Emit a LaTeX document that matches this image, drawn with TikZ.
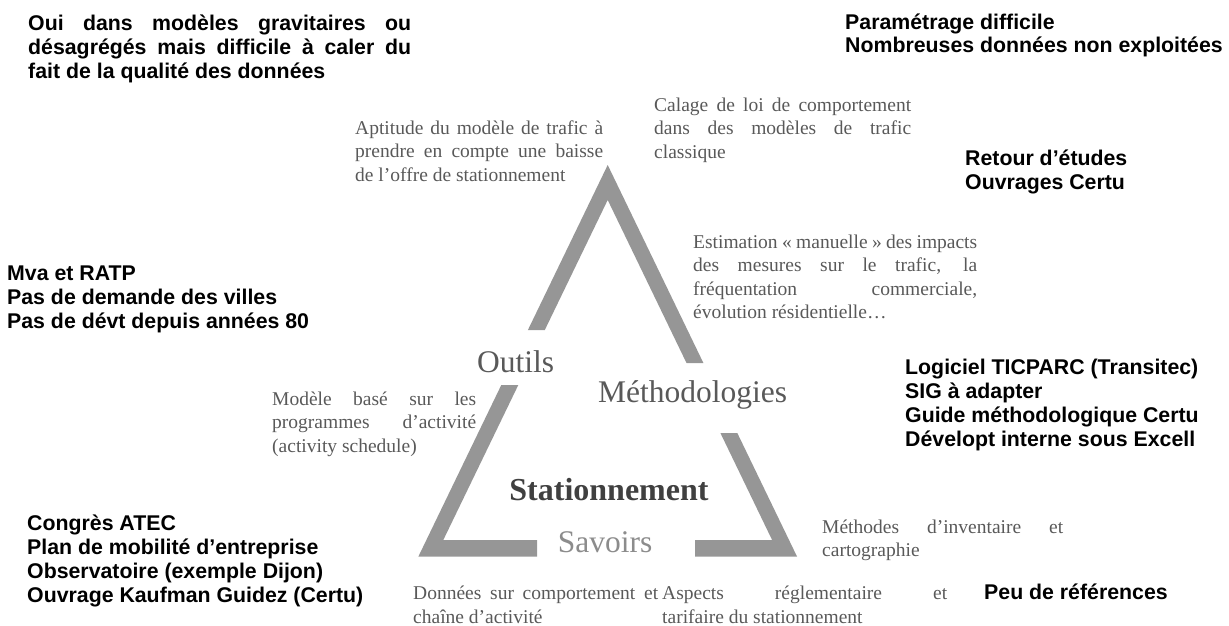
\documentclass[tikz,border=0pt]{standalone}
\usepackage{fontspec}
\setmainfont{Liberation Serif}
\setsansfont{Liberation Sans}
\usetikzlibrary{positioning}
\definecolor{grisTri}{RGB}{150,150,150}
\definecolor{grisTexte}{RGB}{89,89,89}
\definecolor{grisClair}{RGB}{140,140,140}
\definecolor{grisFonce}{RGB}{64,64,64}
\newcommand{\jl}[2]{\makebox[#1][s]{#2}}

\begin{document}
\begin{tikzpicture}[x=1pt,y=-1pt,
    avis/.style={anchor=base west,inner sep=0pt,align=left,font=\sffamily\bfseries\fontsize{21.3}{24}\selectfont},
    note/.style={anchor=base west,inner sep=0pt,align=left,text=grisTexte,font=\fontsize{19.5}{23.5}\selectfont},
    pole/.style={inner sep=0pt,text=grisTexte,font=\fontsize{31.5}{36}\selectfont}]
  \useasboundingbox (0,0) rectangle (1229,626);
  \fill[grisTri] (527.9,330) -- (607.7,165) -- (703.4,363) -- (686.5,363) -- (607.7,200) -- (544.8,330) -- cycle;
  \fill[grisTri] (501.3,385) -- (418.3,556.7) -- (537,556.7) -- (537,540) -- (443.3,540) -- (518.3,385) -- cycle;
  \fill[grisTri] (720.4,433) -- (737.3,433) -- (797.1,556.7) -- (695,556.7) -- (695,540) -- (772.1,540) -- cycle;

  % multi-line nodes: the base is the last line
  \node[avis] (oui) at (28,78) {\jl{383pt}{Oui dans modèles gravitaires ou}\\\jl{383pt}{désagrégés mais difficile à caler du}\\fait de la qualité des données};
  \node[avis] (param) at (845,53) {Paramétrage difficile\\Nombreuses données non exploitées};
  \node[avis] (retour) at (965,189) {Retour d’études\\Ouvrages Certu};
  \node[avis] (mva) at (7,328) {Mva et RATP\\Pas de demande des villes\\Pas de dévt depuis années 80};
  \node[avis] (logiciel) at (905,446) {Logiciel TICPARC (Transitec)\\SIG à adapter\\Guide méthodologique Certu\\Dévelopt interne sous Excell};
  \node[avis] (congres) at (27,602) {Congrès ATEC\\Plan de mobilité d’entreprise\\Observatoire (exemple Dijon)\\Ouvrage Kaufman Guidez (Certu)};
  \node[avis] (peu) at (984,599) {Peu de références};

  \node[note] (aptitude) at (355,181) {\jl{248pt}{Aptitude du modèle de trafic à}\\\jl{248pt}{prendre en compte une baisse}\\de l’offre de stationnement};
  \node[note] (calage) at (654,158) {\jl{257pt}{Calage de loi de comportement}\\\jl{257pt}{dans des modèles de trafic}\\classique};
  \node[note] (estimation) at (693,318.5) {\jl{284pt}{Estimation «~manuelle~» des impacts}\\\jl{284pt}{des mesures sur le trafic, la}\\\jl{284pt}{fréquentation commerciale,}\\évolution résidentielle…};
  \node[note] (modele) at (272,452) {\jl{204pt}{Modèle basé sur les}\\\jl{204pt}{programmes d’activité}\\(activity schedule)};
  \node[note] (methodes) at (822,556.5) {\jl{241pt}{Méthodes d’inventaire et}\\cartographie};
  \node[note] (donnees) at (413,623) {\jl{245pt}{Données sur comportement et}\\chaîne d’activité};
  \node[note] (aspects) at (662,623) {\jl{285pt}{Aspects réglementaire et}\\tarifaire du stationnement};

  \node[pole,anchor=base west] (outils) at (477,372) {Outils};
  \node[pole,anchor=base west] (methodo) at (598,402) {Méthodologies};
  \node[pole,anchor=base,text=grisClair] (savoirs) at (605,552) {Savoirs};
  \node[pole,anchor=base,text=grisFonce,font=\bfseries\fontsize{32}{36}\selectfont] (station) at (609,500) {Stationnement};
\end{tikzpicture}
\end{document}
